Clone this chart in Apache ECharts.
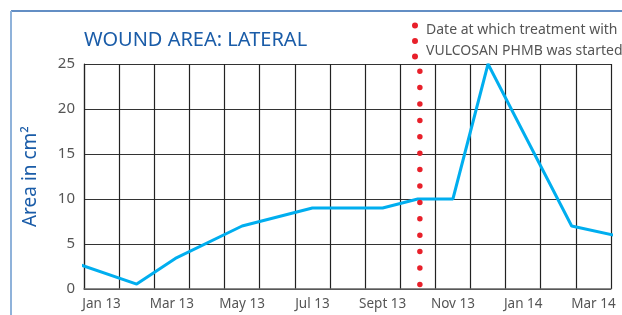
<!DOCTYPE html>
<html>
<head>
<meta charset="utf-8">
<script src="https://cdn.jsdelivr.net/npm/echarts@6/dist/echarts.min.js"></script>
<style>
  html, body { margin: 0; padding: 0; background: #fff; }
  #chart { width: 622px; height: 315px; }
</style>
</head>
<body>
<div id="chart"></div>
<script>
// months, one grid cell each
var months = ['Jan 13', 'Feb 13', 'Mar 13', 'Apr 13', 'May 13', 'Jun 13', 'Jul 13', 'Aug 13',
  'Sept 13', 'Oct 13', 'Nov 13', 'Dec 13', 'Jan 14', 'Feb 14', 'Mar 14'];
// x in months from start of Jan 13
var areaX = [-0.07, 1.5, 2.6, 4.5, 6.5, 8.5, 9.5, 10.5, 11.5, 13.88, 15.28];
var areaY = [2.65, 0.55, 3.4, 7.0, 9.0, 9.0, 10.0, 10.0, 25.0, 7.0, 5.8];
// treatment start marker
var startX = 9.56;
var startRange = [24.2, 0.2];
var yTicks = { min: 0, max: 25, interval: 5 };

var font = '"Noto Sans", "Open Sans", sans-serif';
var chart = echarts.init(document.getElementById('chart'));

var areaData = [];
for (var i = 0; i < areaX.length; i++) {
  areaData.push([areaX[i], areaY[i]]);
}

chart.setOption({
  animation: false,
  title: {
    text: 'WOUND AREA: LATERAL',
    left: 79, top: 25,
    textStyle: { color: '#1a5ca8', fontSize: 20, fontWeight: 'normal', fontFamily: font }
  },
  legend: {
    left: 407, top: 15,
    itemWidth: 6, itemHeight: 37, itemGap: 0,
    icon: 'path://M0,3a3,3 0 1 0 6,0a3,3 0 1 0 -6,0M0,18.5a3,3 0 1 0 6,0a3,3 0 1 0 -6,0M0,34a3,3 0 1 0 6,0a3,3 0 1 0 -6,0',
    data: ['Date at which treatment with\nVULCOSAN PHMB was started'],
    textStyle: { color: '#555', fontSize: 14, lineHeight: 21, fontFamily: font, padding: [0, 0, 0, 3] }
  },
  graphic: [
    { type: 'line', shape: { x1: 11, y1: 11, x2: 622, y2: 11 }, style: { stroke: '#2f68b0', lineWidth: 1.5 } },
    { type: 'line', shape: { x1: 11, y1: 11, x2: 11, y2: 315 }, style: { stroke: '#8fb2da', lineWidth: 2 } }
  ],
  grid: { left: 84, right: 11, top: 64, bottom: 26 },
  xAxis: [{
    type: 'category',
    data: months,
    boundaryGap: true,
    axisLine: { lineStyle: { color: '#666', width: 1.5 } },
    axisTick: { show: false },
    axisLabel: { interval: 1, color: '#555', fontSize: 13.5, margin: 8, fontFamily: font },
    splitLine: { show: true, interval: 0, lineStyle: { color: '#222', width: 1.2 } }
  }, {
    type: 'value', min: 0, max: 15, show: false
  }],
  yAxis: {
    type: 'value',
    min: yTicks.min, max: yTicks.max, interval: yTicks.interval,
    name: 'Area in cm²',
    nameLocation: 'middle',
    nameGap: 44,
    nameTextStyle: { color: '#1a5ca8', fontSize: 19, fontFamily: font },
    axisLine: { show: true, lineStyle: { color: '#222', width: 1.2 } },
    axisTick: { show: false },
    axisLabel: { color: '#555', fontSize: 15, margin: 9, fontFamily: font },
    splitLine: { lineStyle: { color: '#333', width: 1.2 } }
  },
  series: [{
    name: 'area',
    type: 'line',
    xAxisIndex: 1,
    data: areaData,
    clip: false,
    symbol: 'none',
    lineStyle: { color: '#00aeef', width: 3 },
    z: 3
  }, {
    name: 'Date at which treatment with\nVULCOSAN PHMB was started',
    type: 'line',
    xAxisIndex: 1,
    data: [[startX, startRange[0]], [startX, startRange[1]]],
    symbol: 'none',
    color: '#e8202a',
    lineStyle: { color: '#e8202a', width: 5.5, type: [0, 16.4], cap: 'round' },
    z: 4
  }]
});
</script>
</body>
</html>
